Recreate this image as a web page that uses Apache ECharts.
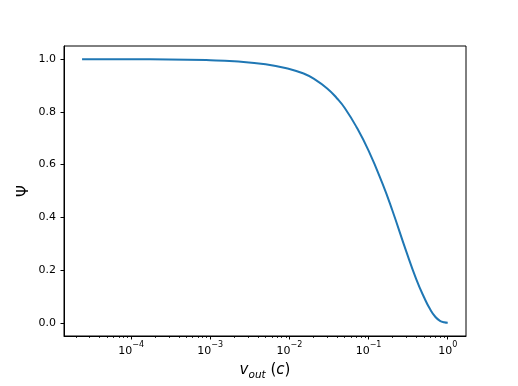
<!DOCTYPE html>
<html>
<head>
<meta charset="utf-8">
<script src="https://cdn.jsdelivr.net/npm/echarts@6/dist/echarts.min.js"></script>
<style>html,body{margin:0;padding:0;background:#fff}#c{width:518px;height:386px}</style>
</head>
<body>
<div id="c"></div>
<script>
// Data
const vOut = [2.4e-5, 1e-4, 3e-4, 1e-3, 2e-3, 5e-3, 0.01, 0.015, 0.02, 0.03, 0.04, 0.05, 0.07, 0.1, 0.15, 0.2, 0.3, 0.4, 0.5, 0.6, 0.7, 0.8, 0.9, 1.0];
const psi  = [1.0, 0.9996, 0.999, 0.996, 0.992, 0.981, 0.963, 0.946, 0.927, 0.889, 0.851, 0.815, 0.744, 0.653, 0.528, 0.426, 0.270, 0.166, 0.098, 0.051, 0.022, 0.0076, 0.002, 0.0];
const xMajorTicks = [1e-4, 1e-3, 1e-2, 1e-1, 1e0];
const xMinorTicks = [];
for (let k = -5; k <= 0; k++) for (let m = 2; m <= 9; m++) {
  const t = m * Math.pow(10, k);
  if (t > 1.42e-5 && t < 1.7) xMinorTicks.push(t);
}
const yTicks = [0, 0.2, 0.4, 0.6, 0.8, 1.0];

const xMin = Math.pow(10, -4.848), xMax = Math.pow(10, 0.231);
const FONT = 'DejaVu Sans';
const chart = echarts.init(document.getElementById('c'), null, {renderer: 'canvas'});
chart.setOption({
  animation: false,
  backgroundColor: '#fff',
  grid: {left: 64, right: 52, top: 46, bottom: 50, show: true, borderColor: '#000', borderWidth: 1, backgroundColor: 'transparent'},
  xAxis: [{
    type: 'log', logBase: 10, min: xMin, max: xMax,
    name: '{v|v}{sub|out}{n| (}{v|c}{n|)}',
    nameLocation: 'middle', nameGap: 22,
    nameTextStyle: {rich: {
      v: {fontFamily: FONT, fontStyle: 'italic', fontSize: 15, color: '#000', lineHeight: 20, verticalAlign: 'bottom'},
      sub: {fontFamily: FONT, fontStyle: 'italic', fontSize: 10.5, color: '#000', lineHeight: 14, verticalAlign: 'bottom', padding: [0,0,-3,0]},
      n: {fontFamily: FONT, fontSize: 15, color: '#000', lineHeight: 20, verticalAlign: 'bottom'}
    }},
    axisLine: {show: true, onZero: false, lineStyle: {color: '#000', width: 1}},
    axisTick: {show: true, inside: false, length: 3.5, lineStyle: {color: '#000', width: 1}, customValues: xMajorTicks},
    axisLabel: {
      customValues: xMajorTicks, margin: 5, color: '#000',
      formatter: function (v) {
        const e = Math.round(Math.log10(v));
        return '{b|10}{s|' + (e < 0 ? '\u2212' + (-e) : String(e)) + '}';
      },
      rich: {
        b: {fontFamily: FONT, fontSize: 11, color: '#000', lineHeight: 16, verticalAlign: 'bottom'},
        s: {fontFamily: FONT, fontSize: 8, color: '#000', lineHeight: 9, verticalAlign: 'top'}
      }
    },
    splitLine: {show: false}
  }, {
    type: 'log', logBase: 10, min: xMin, max: xMax, position: 'bottom',
    axisLine: {show: false, onZero: false},
    axisTick: {show: true, inside: false, length: 2, lineStyle: {color: '#000', width: 0.8}, customValues: xMinorTicks},
    axisLabel: {show: false},
    splitLine: {show: false}
  }],
  yAxis: {
    type: 'value', min: -0.05, max: 1.05,
    name: '\u03A8', nameLocation: 'middle', nameGap: 32, nameRotate: 90, nameMoveOverlap: false,
    nameTextStyle: {fontFamily: FONT, fontSize: 15, color: '#000'},
    axisLine: {show: true, onZero: false, lineStyle: {color: '#000', width: 1}},
    axisTick: {show: true, inside: false, length: 3.5, lineStyle: {color: '#000', width: 1}, customValues: yTicks},
    axisLabel: {customValues: yTicks, margin: 8, color: '#000', fontFamily: FONT, fontSize: 11,
      formatter: v => v.toFixed(1)},
    splitLine: {show: false}
  },
  series: [{
    type: 'line', xAxisIndex: 0,
    data: vOut.map((v, i) => [v, psi[i]]),
    showSymbol: false, smooth: 0.5,
    lineStyle: {color: '#1f77b4', width: 2},
    itemStyle: {color: '#1f77b4'}
  }]
});
</script>
</body>
</html>
